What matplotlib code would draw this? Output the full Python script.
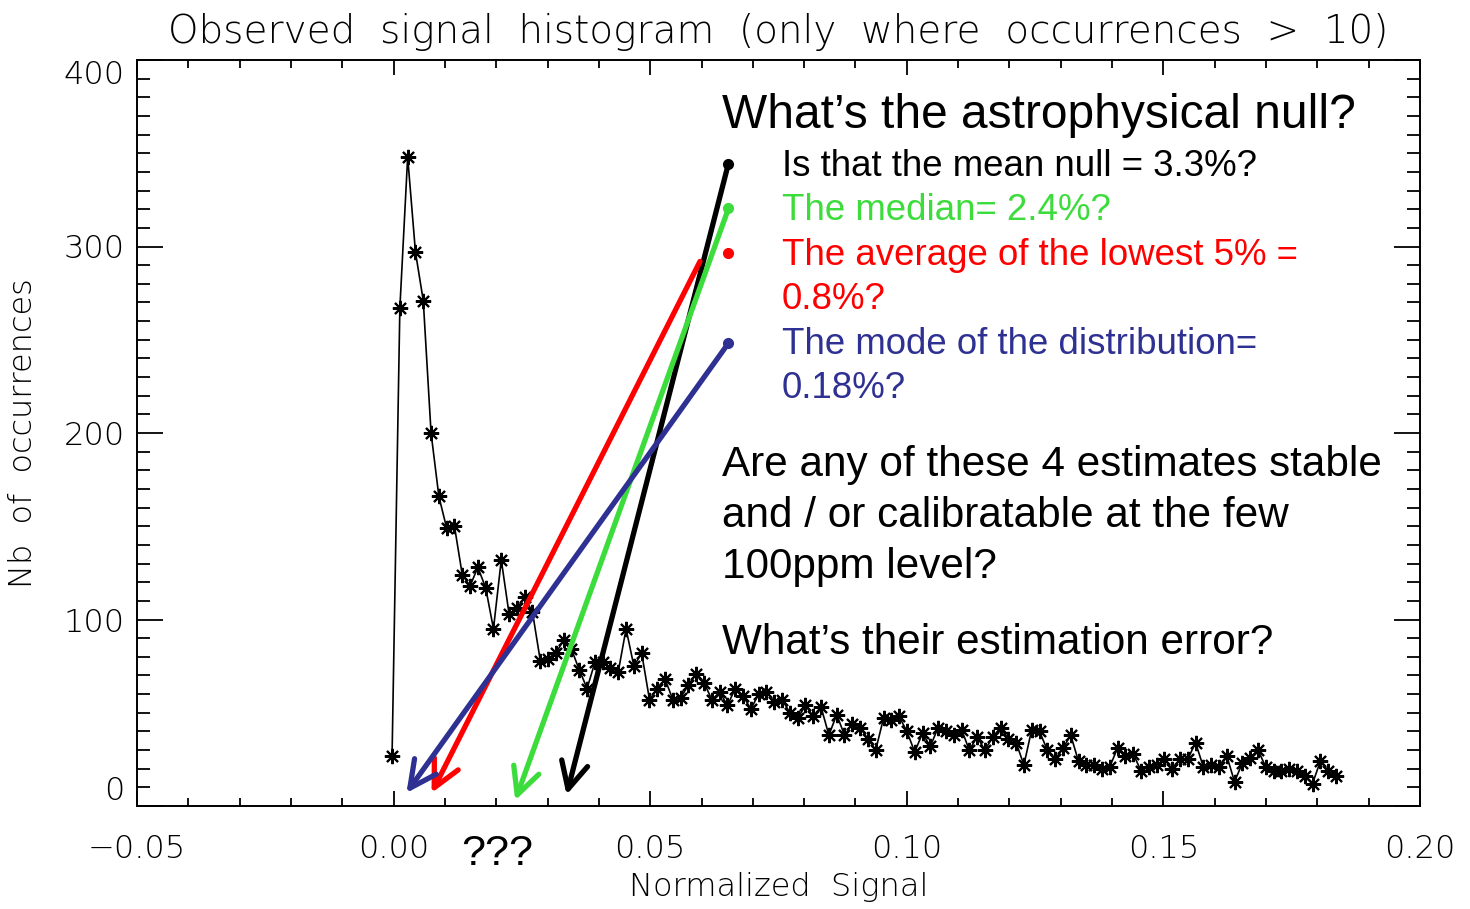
import matplotlib
matplotlib.use('Agg')
import matplotlib.pyplot as plt
import numpy as np

# histogram counts, one per bin
bin_start = -0.0003
bin_width = 0.00152
counts = [27, 267, 348, 297, 271, 200, 166, 149, 150, 124,
          118, 128, 117, 95, 132, 103, 106, 112, 104, 78,
          79, 82, 89, 84, 73, 63, 77, 77, 74, 72,
          95, 75, 82, 57, 63, 68, 57, 58, 65, 71,
          66, 57, 61, 54, 63, 59, 52, 60, 61, 56,
          57, 50, 47, 54, 48, 53, 38, 49, 38, 44,
          42, 36, 30, 47, 46, 48, 40, 29, 39, 32,
          42, 40, 38, 41, 30, 37, 30, 37, 42, 36,
          34, 22, 41, 40, 30, 25, 31, 38, 24, 22,
          22, 20, 21, 31, 27, 28, 19, 21, 22, 25,
          20, 25, 25, 34, 21, 22, 21, 27, 13, 23,
          26, 30, 21, 19, 19, 20, 19, 16, 12, 24,
          19, 16]

x_ticks = [-0.05, 0.00, 0.05, 0.10, 0.15, 0.20]
y_ticks = [0, 100, 200, 300, 400]

# the four estimates and where their arrows start
est_values = [0.0337, 0.0237, 0.0074, 0.0025]
est_tip_y = [6, 3, 7, 7]
est_tail_x = [0.0652, 0.0652, 0.0597, 0.0652]
est_tail_y = [344, 320, 292, 248]
dot_y = [344, 320.5, 296.4, 248.3]
est_colors = ['black', '#3ddc3d', '#ff0000', '#2e3192']

W, H = 1470, 909
fig = plt.figure(figsize=(W / 100, H / 100), dpi=100)
ax = fig.add_axes([137 / W, 1 - 806 / H, (1420 - 137) / W, (806 - 60) / H])

x = bin_start + bin_width * np.arange(len(counts))
ax.plot(x, counts, color='black', lw=1.2, marker=(8, 2, 0), ms=11, mew=1.5,
        mec='black')

ax.set_xlim(-0.05, 0.20)
ax.set_ylim(0, 400)
ax.set_xticks(x_ticks)
ax.set_yticks(y_ticks)
ax.set_xticks(np.arange(-0.05, 0.2001, 0.01), minor=True)
ax.set_yticks(np.arange(0, 401, 10), minor=True)
ax.tick_params(axis='both', which='both', direction='in', top=True, right=True,
               width=1.3, labelsize=23)
ax.tick_params(axis='x', which='major', length=11, pad=20)
ax.tick_params(axis='x', which='minor', length=5.5)
ax.tick_params(axis='y', which='major', length=19, pad=9)
ax.tick_params(axis='y', which='minor', length=9.5)
for lab in ax.get_xticklabels() + ax.get_yticklabels():
    lab.set_fontweight('light')
ylabs = ax.get_yticklabels()
ylabs[0].set_verticalalignment('bottom')
ylabs[-1].set_verticalalignment('top')
for s in ax.spines.values():
    s.set_linewidth(1.4)

ax.set_xlabel('Normalized  Signal', fontsize=23, fontweight='light', labelpad=6)
ax.set_ylabel('Nb  of  occurrences', fontsize=23, fontweight='light', labelpad=18)
ax.set_title('Observed  signal  histogram  (only  where  occurrences  >  10)',
             fontsize=28, fontweight='light', pad=12)

# arrows from the bullets to the estimate on the x axis
for i in range(len(est_values)):
    ax.annotate('', xy=(est_values[i], est_tip_y[i]),
                xytext=(est_tail_x[i], est_tail_y[i]),
                arrowprops=dict(arrowstyle='->,head_length=0.8,head_width=0.4',
                                color=est_colors[i], lw=3.8, shrinkA=0, shrinkB=0,
                                mutation_scale=24, capstyle='round',
                                joinstyle='round'),
                annotation_clip=False)
    ax.plot(0.0652, dot_y[i], 'o', color=est_colors[i], ms=7, clip_on=False)

tf = 'Liberation Sans'
def px(xp, yp):
    return xp / W, 1 - yp / H

fig.text(*px(722, 128), 'What\u2019s the astrophysical null?', fontsize=34.5,
         family=tf, va='baseline')
bullets = [('Is that the mean null = 3.3%?', 'black', 175.5),
           ('The median= 2.4%?', est_colors[1], 220),
           ('The average of the lowest 5% =', est_colors[2], 265),
           ('0.8%?', est_colors[2], 309),
           ('The mode of the distribution=', est_colors[3], 354),
           ('0.18%?', est_colors[3], 398)]
for txt, col, yb in bullets:
    fig.text(*px(782, yb), txt, fontsize=26.4, family=tf, color=col, va='baseline')

para = [('Are any of these 4 estimates stable', 476),
        ('and / or calibratable at the few', 527),
        ('100ppm level?', 578),
        ('What\u2019s their estimation error?', 654)]
for txt, yb in para:
    fig.text(*px(722, yb), txt, fontsize=30.4, family=tf, va='baseline')

fig.text(*px(497, 865), '???', fontsize=31, family=tf, ha='center', va='baseline')

fig.savefig('out.png', dpi=100)
